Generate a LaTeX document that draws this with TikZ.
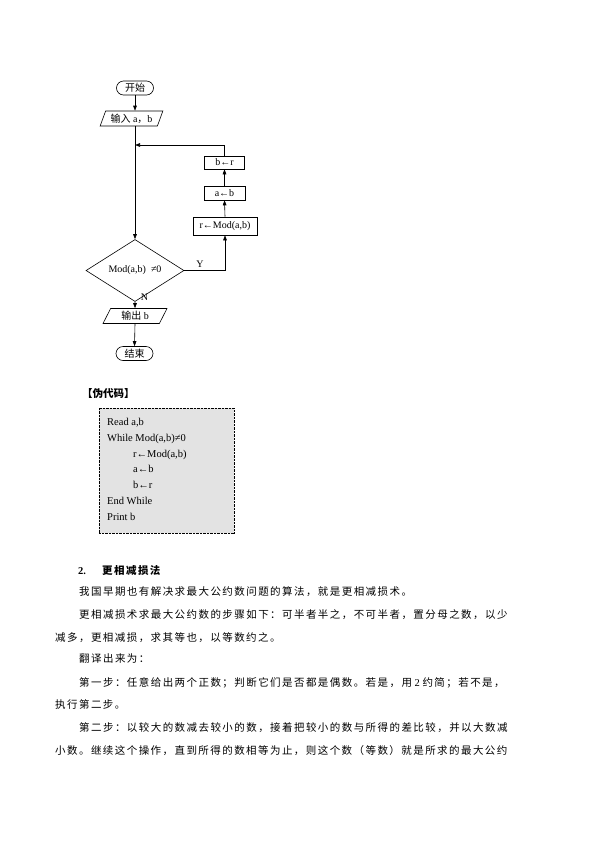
\documentclass[tikz,border=0pt]{standalone}
\usepackage{fontspec}
\setmainfont{Liberation Serif}
\newfontfamily\cjk{Noto Sans CJK SC}
\newfontfamily\cjkt{Noto Sans CJK SC}[LetterSpace=13.7]
\usetikzlibrary{shapes.geometric,arrows.meta}
\tikzset{
  fl/.style={draw, line width=0.6pt, inner sep=0pt, font=\fontsize{10}{12}\selectfont},
  term/.style={fl, rounded corners=7pt, minimum width=37pt, minimum height=14pt},
  io/.style={fl, trapezium, trapezium left angle=65, trapezium right angle=115, trapezium stretches=true, minimum height=15pt},
  proc/.style={fl, rectangle},
  dec/.style={fl, diamond, minimum width=98pt, minimum height=37pt},
  arr/.style={line width=0.6pt, -{Triangle[length=5pt,width=3.6pt]}},
  lbl/.style={inner sep=0pt, font=\fontsize{10}{12}\selectfont},
  codebox/.style={draw, line width=0.6pt, dash pattern=on 0.7pt off 0.7pt, fill=black!11, minimum width=135pt, minimum height=125pt, inner sep=0pt},
  codeline/.style={anchor=base west, inner sep=0pt, font=\fontsize{10.5}{12}\selectfont},
  bodyline/.style={anchor=base west, inner sep=0pt, font=\cjkt\fontsize{10.5}{12}\selectfont},
  headline/.style={anchor=base west, inner sep=0pt, font=\fontsize{10.5}{12}\selectfont\bfseries}
}
\begin{document}
\begin{tikzpicture}[x=1pt,y=-1pt]
\fill[white] (0,0) rectangle (595,841);
\useasboundingbox (0,0) rectangle (595,841);

% flowchart
\node[term] (start) at (135,88) {{\cjk 开始}};
\node[io, minimum width=63pt] (in) at (131.5,118.5) {{\cjk 输入} a{\cjk ，}b};
\node[dec] (dec) at (135,270.5) {Mod(a,b)\ \ ≠0};
\node[io, minimum width=64pt] (out) at (135,316) {{\cjk 输出} b};
\node[term] (end) at (134.5,353.5) {{\cjk 结束}};
\node[proc, minimum width=64pt, minimum height=18pt] (r) at (225,226) {r←Mod(a,b)};
\node[proc, minimum width=41pt, minimum height=14pt] (a) at (224.5,193) {a←b};
\node[proc, minimum width=40pt, minimum height=13pt] (b) at (224.5,162.5) {b←r};
\coordinate (top) at (224.5,145);
\coordinate (merge) at (135,145);
\node[lbl] (Y) at (200,264) {Y};
\node[lbl] (N) at (144.5,297) {N};

\draw[arr] (start.south) -- (start.south |- in.north);
\draw[arr] (dec.north |- in.south) -- (dec.north);
\draw[arr] (b.north) -- (top) -- (merge);
\draw[arr] (dec.east) -| (r.south);
\draw[arr] (r.north) -- (a.south);
\draw[arr] (a.north) -- (b.south);
\draw[arr] (dec.south) -- (out.north);
\draw[arr] (out.south) -- (end.north);

% pseudo code
\node[headline, font=\cjk\fontsize{10.5}{12}\selectfont\bfseries] (pch) at (82,397) {【伪代码】};
\node[codebox] (code) at (166.5,470.5) {};
\node[codeline] (c1) at (107,425.5) {Read a,b};
\node[codeline] (c2) at (107,441.5) {While Mod(a,b)≠0};
\node[codeline] (c3) at (133,457) {r←Mod(a,b)};
\node[codeline] (c4) at (133,472.5) {a←b};
\node[codeline] (c5) at (133,488.5) {b←r};
\node[codeline] (c6) at (107,504.5) {End While};
\node[codeline] (c7) at (107,520.5) {Print b};

% text
\node[headline] (h1) at (78,574.5) {2.};
\node[headline, font=\cjkt\fontsize{10.5}{12}\selectfont\bfseries] (h2) at (102,574.5) {更相减损法};
\node[bodyline] (l1) at (79,595.5) {我国早期也有解决求最大公约数问题的算法，就是更相减损术。};
\node[bodyline] (l2) at (79,618.5) {更相减损术求最大公约数的步骤如下：可半者半之，不可半者，置分母之数，以少};
\node[bodyline] (l3) at (55,641) {减多，更相减损，求其等也，以等数约之。};
\node[bodyline] (l4) at (79,662.5) {翻译出来为：};
\node[bodyline] (l5) at (79,686) {第一步：任意给出两个正数；判断它们是否都是偶数。若是，用{\rmfamily\ 2\ }约简；若不是，};
\node[bodyline] (l6) at (55,708) {执行第二步。};
\node[bodyline] (l7) at (79,731) {第二步：以较大的数减去较小的数，接着把较小的数与所得的差比较，并以大数减};
\node[bodyline] (l8) at (55,754) {小数。继续这个操作，直到所得的数相等为止，则这个数（等数）就是所求的最大公约};
\end{tikzpicture}
\end{document}
